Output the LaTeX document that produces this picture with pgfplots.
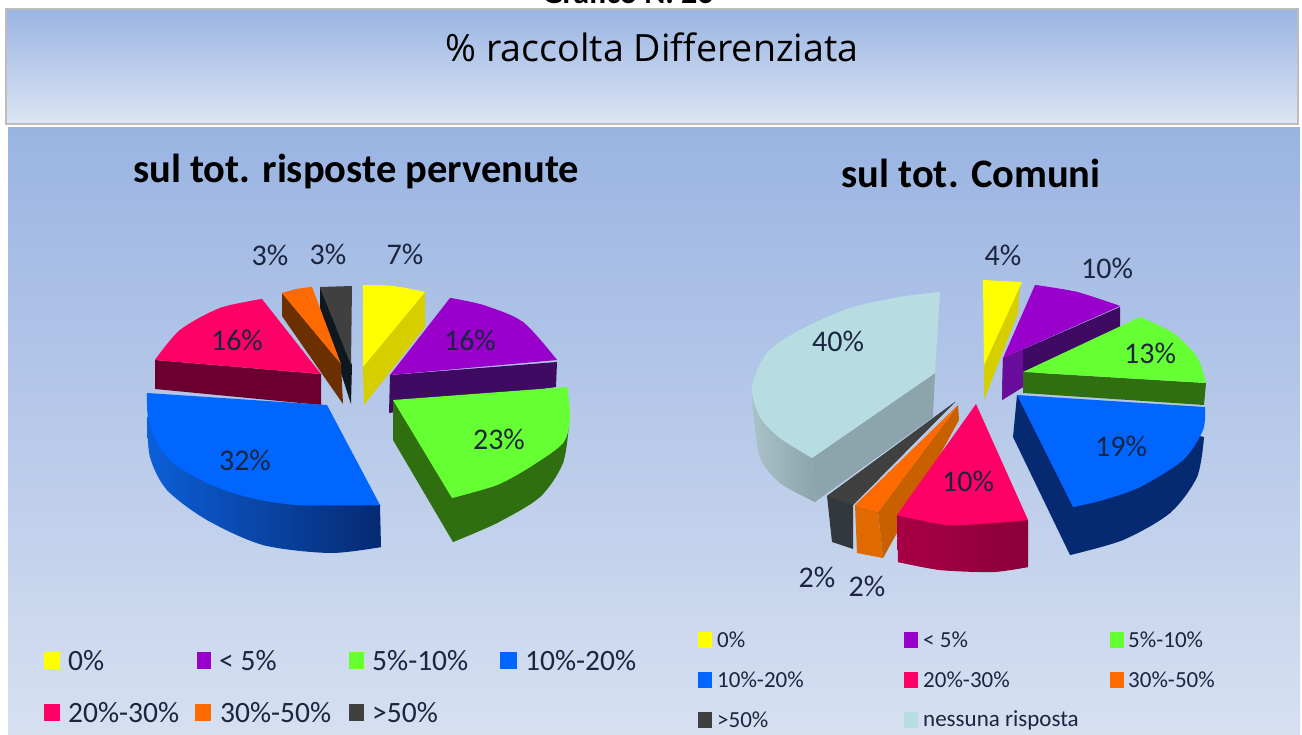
\documentclass[border=0pt]{standalone}
\usepackage{fontspec}
\setmainfont{Carlito}
\newfontfamily\headfont{Open Sans}
\usepackage{pgfplots}
\pgfplotsset{compat=1.18}
\definecolor{cY}{HTML}{FFFF00}\definecolor{cYs}{HTML}{D6CF00}
\definecolor{cP}{HTML}{9900CC}\definecolor{cPs}{HTML}{3F0A62}\definecolor{cPi}{HTML}{6A0D9C}
\definecolor{cG}{HTML}{66FF33}\definecolor{cGs}{HTML}{2F6F10}
\definecolor{cB}{HTML}{0066FF}\definecolor{cBs}{HTML}{062A72}\definecolor{cBl}{HTML}{0B5FD8}
\definecolor{cR}{HTML}{FF0066}\definecolor{cRs}{HTML}{6B0030}\definecolor{cRt}{HTML}{A80045}\definecolor{cRu}{HTML}{8A0038}
\definecolor{cO}{HTML}{FF6A00}\definecolor{cOs}{HTML}{6B2F00}\definecolor{cOt}{HTML}{C86000}\definecolor{cOf}{HTML}{E06A00}
\definecolor{cD}{HTML}{404040}\definecolor{cDs}{HTML}{10181F}\definecolor{cDt}{HTML}{33383D}
\definecolor{cL}{HTML}{B7DDE3}\definecolor{cLs}{HTML}{8CA5AC}\definecolor{cLt}{HTML}{A8C2C8}
\definecolor{lab}{HTML}{1B2540}
\definecolor{panT}{HTML}{9AB4E2}\definecolor{panB}{HTML}{DCE6F4}\definecolor{panE}{HTML}{D6E0F1}
\definecolor{edge}{HTML}{BDBDBD}
\newcommand\face[3]{%
 \addplot[fill=#1,draw=none] coordinates {#2 #3};
 \addplot[smooth,fill=#1,draw=none] coordinates {#3};}
\newcommand\shadeface[3]{%
 \addplot[#1,draw=none] coordinates {#2 #3};
 \addplot[smooth,#1,draw=none] coordinates {#3};}
\newcommand\lab[3]{\node[text=lab,font=\fontsize{#3}{#3}\selectfont,inner sep=0pt] at (axis cs:#1) {#2};}
\newcommand\swatch[5]{\addplot[fill=#1,draw=none] coordinates {(#2,#4)(#3,#4)(#3,#5)(#2,#5)};}
\newcommand\ltxt[3]{\node[text=lab,anchor=west,font=\fontsize{#3}{#3}\selectfont,inner sep=0pt] at (axis cs:#1) {#2};}
\begin{document}
\begin{tikzpicture}
\begin{axis}[scale only axis,width=1302pt,height=735pt,xmin=0,xmax=1302,ymin=0,ymax=735,
 y dir=reverse,hide axis,no markers]
% page and panels
\addplot[fill=white,draw=none] coordinates {(0,0)(1302,0)(1302,735)(0,735)};
\addplot[top color=panT,bottom color=panB,draw=edge,line width=1.5pt] coordinates {(6,9)(1298,9)(1298,124)(6,124)} -- cycle;
\addplot[top color=panT,bottom color=panE,draw=none] coordinates {(8,128)(1300,128)(1300,735)(8,735)};
\node[anchor=base,font=\bfseries\fontsize{32}{32}\selectfont,inner sep=0pt] at (axis cs:628,4) {Grafico N. 26};
\node[font=\headfont\fontsize{37.6}{37.6}\selectfont,inner sep=0pt] at (axis cs:652,47) {\% raccolta Differenziata};
\node[text=black,font=\bfseries\fontsize{40.5}{40.5}\selectfont,inner sep=0pt] at (axis cs:356,171) {sul tot. risposte pervenute};
\node[text=black,font=\bfseries\fontsize{40.5}{40.5}\selectfont,inner sep=0pt] at (axis cs:971,173) {sul tot. Comuni};
% ---- left pie
% dark
\face{cDs}{(352,365)(351,404)(320,308)(320,287)}{}
\face{cD}{(351,365)(320,287)(352,286)}{}
% orange
\face{cOs}{(282,293)(341,364)(343,404)(282,316)}{}
\face{cO}{(341,364)(282,293)}{(282,293)(297,289)(312,287)}
% red
\face{cRs}{(321,374)(321,405)(155,389)(155,360)}{}
\face{cR}{(321,374)(262,299)}{(262,299)(220,308)(180,330)(155,360)}
% yellow
\face{cYs}{(363,367)(425,292)(425,327)(364,405)}{}
\face{cY}{(363,367)}{(363,285)(393,286)(425,292)}
% purple
\face{cPs}{(390,375)(557,362)(556,387)(389,413)}{}
\face{cP}{(390,375)}{(450,298)(483,305)(523,322)(557,360)}
% green
\shadeface{left color=cGs,right color=cGs}{(393,400)(393,440)}{(453,542)(497,523)(540,497)(563,463)(569,423)}
\face{cG}{(452,498)(393,400)}{(567,387)(570,417)(563,443)(530,467)(497,485)(452,498)}
% blue
\shadeface{left color=cBl,right color=cBs}{(380,505)}{(381,547)(330,553)(263,545)(207,520)(167,490)(150,457)(147,417)}
\face{cB}{(380,505)(327,405)}{(147,393)(148,417)(157,443)(173,463)(207,483)(247,497)(297,505)(380,505)}
% ---- right pie
% light blue
\shadeface{left color=cLt,right color=cLs}{(812,458)}{(815,502)(780,483)(760,457)(753,410)(752,387)}
\face{cLs}{(935,373)(933,417)(815,502)(812,458)}{}
\face{cL}{(935,373)}{(940,292)(900,297)(850,308)(800,330)(767,353)(752,387)(760,417)(780,438)(812,458)}
% dark
\face{cDt}{(827,496)(832,542)(853,549)(853,505)(955,402)}{}
\face{cD}{(955,402)(827,496)(853,505)}{}
% orange
\face{cOf}{(855,505)(857,553)(883,558)(878,512)}{}
\face{cOt}{(878,512)(883,558)(897,533)(959,420)(958,405)}{}
\face{cO}{(958,405)(855,505)(878,512)}{}
% red
\shadeface{left color=cRt,right color=cRu}{(897,515)(1028,520)}{(1028,567)(993,572)(940,570)(898,562)}
\face{cR}{(976,404)(1028,520)}{(1028,520)(993,523)(947,525)(897,515)}
% yellow
\face{cYs}{(984,365)(1020,285)(1018,313)(984,400)}{}
\face{cY}{(984,365)(983,280)(1022,282)}{}
% purple
\face{cPs}{(1003,358)(1120,307)(1120,327)(1023,387)(1002,400)}{}
\face{cPi}{(1003,358)(1002,400)(1023,387)(1023,350)}{}
\face{cP}{(1003,358)}{(1035,285)(1077,292)(1120,306)}
% green
\face{cGs}{(1023,372)(1206,383)(1204,405)(1023,393)}{}
\face{cG}{(1023,372)}{(1140,317)(1173,333)(1197,357)(1206,383)}
% blue
\face{cBs}{(1017,395)(1013,437)}{(1070,555)(1123,540)(1170,513)(1197,477)(1204,437)}
\face{cB}{(1073,507)(1017,395)}{(1205,407)(1203,430)(1183,460)(1140,487)(1103,500)(1073,507)}
% labels
\lab{270,255}{3\%}{30}\lab{328,254}{3\%}{30}\lab{405,254}{7\%}{30}
\lab{470,340}{16\%}{30}\lab{237,340}{16\%}{30}\lab{499,439}{23\%}{30}\lab{245,460}{32\%}{30}
\lab{1003,255}{4\%}{30}\lab{1107,268}{10\%}{30}\lab{1150,353}{13\%}{30}\lab{838,341}{40\%}{30}
\lab{1121,446}{19\%}{30}\lab{968,481}{10\%}{30}\lab{817,577}{2\%}{30}\lab{867,586}{2\%}{30}
% left legend
\swatch{cY}{44}{60}{652}{669}\swatch{cP}{197}{211}{652}{669}\swatch{cG}{349}{364}{652}{669}\swatch{cB}{500}{517}{652}{669}
\swatch{cR}{44}{60}{704}{721}\swatch{cO}{195}{211}{704}{721}\swatch{cD}{349}{364}{704}{721}
\ltxt{68,661}{0\%}{29.5}\ltxt{219,661}{< 5\%}{29.5}\ltxt{372,661}{5\%-10\%}{29.5}\ltxt{525,661}{10\%-20\%}{29.5}
\ltxt{68,713}{20\%-30\%}{29.5}\ltxt{220,713}{30\%-50\%}{29.5}\ltxt{372,713}{>50\%}{29.5}
% right legend
\swatch{cY}{698}{712}{632}{648}\swatch{cP}{904}{918}{632}{648}\swatch{cG}{1110}{1124}{632}{648}
\swatch{cB}{698}{712}{672}{688}\swatch{cR}{904}{918}{672}{688}\swatch{cO}{1110}{1124}{672}{688}
\swatch{cD}{698}{712}{712}{728}\swatch{cL}{904}{918}{712}{728}
\ltxt{717,640}{0\%}{23}\ltxt{923,640}{< 5\%}{23}\ltxt{1128,640}{5\%-10\%}{23}
\ltxt{717,680}{10\%-20\%}{23}\ltxt{923,680}{20\%-30\%}{23}\ltxt{1128,680}{30\%-50\%}{23}
\ltxt{717,720}{>50\%}{23}\ltxt{923,720}{nessuna risposta}{23}
\end{axis}
\end{tikzpicture}
\end{document}
